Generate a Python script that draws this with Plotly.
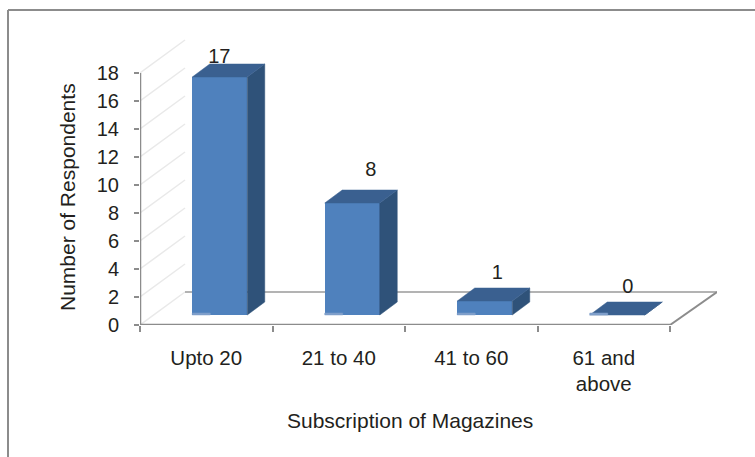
import plotly.graph_objects as go

categories = ["Upto 20", "21 to 40", "41 to 60", "61 and<br>above"]
values = [17, 8, 1, 0]
y_ticks = list(range(0, 20, 2))
x_title = "Subscription of Magazines"
y_title = "Number of Respondents"

FONT = "Liberation Sans"
INK = "#231f20"
AXIS = "#8c8c8c"
GRID = "#e9e9e9"
FRONT = "#4f81bd"
SIDE = "#2f5279"
TOP = "#3a6090"

# pixel scales of the plot box
W, H = 755, 457
PX_X = 132.5
PX_Y = 14.0
LEFT, FLOOR = 140, 325
RIGHT_PX, TOP_PX = 717, 30
x0 = -0.5
x1 = x0 + (RIGHT_PX - LEFT) / PX_X
y1 = (FLOOR - TOP_PX) / PX_Y

dx = lambda px: px / PX_X
dy = lambda px: px / PX_Y

n = len(categories)
xs = list(range(n))
base = dy(10)
bar_w = dx(55)
bar_cx = [i + dx(13.5) for i in xs]
tops = [v + base for v in values]
depth_x, depth_y = dx(17.5), dy(13)
floor_x, floor_y = dx(45), dy(33)
label_dx = [dx(13), dx(32), dx(26), dx(24)]
label_dy = [dy(19), dy(32), dy(27), dy(27)]

fig = go.Figure()


def line(px, py, color, width):
    fig.add_trace(go.Scatter(x=px, y=py, mode="lines", hoverinfo="skip", cliponaxis=False,
                             line=dict(color=color, width=width), showlegend=False))


def poly(px, py, color):
    fig.add_trace(go.Scatter(x=px, y=py, mode="lines", fill="toself", fillcolor=color, hoverinfo="skip",
                             line=dict(color=color, width=0.5), showlegend=False))


# shapes below the traces: walls and back edge of the floor, and the outer frame
shapes = [
    dict(type="line", xref="x", yref="y", layer="below", x0=x0, x1=x0 + floor_x, y0=t, y1=t + floor_y,
         line=dict(color=GRID, width=1.5))
    for t in y_ticks
]
shapes.append(dict(type="line", xref="x", yref="y", layer="below", x0=x0 + floor_x, x1=x1,
                   y0=floor_y, y1=floor_y, line=dict(color="#9a9a9a", width=1.5)))
shapes.append(dict(type="line", xref="paper", yref="paper", layer="below",
                   x0=8 / W, x1=1, y0=1 - 10 / H, y1=1 - 10 / H, line=dict(color=AXIS, width=2)))
shapes.append(dict(type="line", xref="paper", yref="paper", layer="below",
                   x0=8 / W, x1=8 / W, y0=1 - 10 / H, y1=0, line=dict(color=AXIS, width=2)))

# axes
line([x0 + n, x1], [0, floor_y], AXIS, 2)
line([x0, x0 + n], [0, 0], AXIS, 2.5)
line([x0, x0], [0, 18], AXIS, 2.5)

# fronts of the bars
fig.add_trace(go.Bar(x=bar_cx, y=values, base=[base] * n, width=[bar_w] * n,
                     marker=dict(color=FRONT, line=dict(width=0)), showlegend=False))

# data labels go under the tops of the bars, so the 17 is partly hidden
fig.add_trace(go.Scatter(x=[c + o for c, o in zip(xs, label_dx)],
                         y=[t + o for t, o in zip(tops, label_dy)],
                         text=[str(v) for v in values], mode="text", cliponaxis=False,
                         textfont=dict(family=FONT, size=20, color=INK), showlegend=False))

# side and top faces of each bar, and the light patch at its foot
for c, t in zip(bar_cx, tops):
    l, r = c - bar_w / 2, c + bar_w / 2
    poly([r, r + depth_x, r + depth_x, r, r], [base, base + depth_y, t + depth_y, t, base], SIDE)
    poly([l, r, r + depth_x, l + depth_x, l], [t, t, t + depth_y, t + depth_y, t], TOP)
    poly([l, l + dx(18), l + dx(18), l, l], [base, base, base + dy(2), base + dy(2), base], "#7f9fca")

fig.update_layout(
    width=W, height=H,
    margin=dict(l=0, r=0, t=0, b=0, autoexpand=False),
    paper_bgcolor="white", plot_bgcolor="white",
    bargap=0,
    showlegend=False,
    xaxis=dict(
        domain=[LEFT / W, RIGHT_PX / W], range=[x0, x1],
        tickvals=xs, ticktext=categories, ticks="", showgrid=False, zeroline=False, showline=False,
        tickfont=dict(family=FONT, size=20.5, color=INK), ticklabelstandoff=18,
        minor=dict(tickvals=[x0 + i for i in range(n + 1)], ticks="outside", ticklen=6,
                   tickcolor=AXIS, tickwidth=2, showgrid=False),
        automargin=False,
    ),
    yaxis=dict(
        domain=[(H - FLOOR) / H, (H - TOP_PX) / H], range=[0, y1],
        tickvals=y_ticks, ticks="outside", ticklen=5, tickcolor=AXIS, tickwidth=2,
        showgrid=False, zeroline=False, showline=False,
        tickfont=dict(family=FONT, size=20, color=INK), ticklabelstandoff=11,
        automargin=False,
    ),
    shapes=shapes,
    annotations=[
        dict(text=x_title, xref="paper", yref="paper", x=410 / W, y=1 - 420 / H,
             xanchor="center", yanchor="middle", showarrow=False,
             font=dict(family=FONT, size=21, color=INK)),
        dict(text=y_title, xref="paper", yref="paper", x=68 / W, y=1 - 197 / H, textangle=-90,
             xanchor="center", yanchor="middle", showarrow=False,
             font=dict(family=FONT, size=21, color=INK)),
    ],
)
fig.write_html("out.html", post_script="document.body.style.margin='0';",
               config=dict(displayModeBar=False))
